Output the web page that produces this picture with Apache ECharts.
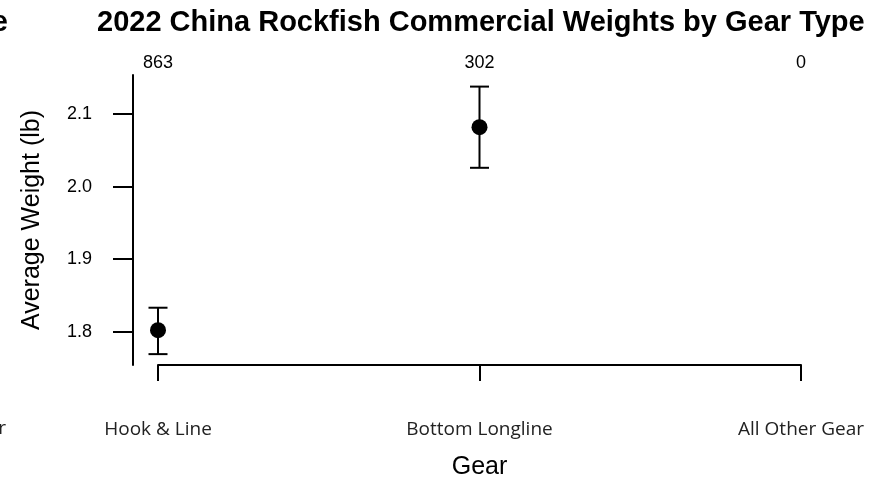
<!DOCTYPE html>
<html>
<head>
<meta charset="utf-8">
<script src="https://cdn.jsdelivr.net/npm/echarts@6/dist/echarts.min.js"></script>
<style>
  html, body { margin: 0; padding: 0; background: #fff; }
  #chart { width: 873px; height: 479px; }
</style>
</head>
<body>
<div id="chart"></div>
<script>
// gear types and their sample counts
const gears = ['Hook & Line', 'Bottom Longline', 'All Other Gear'];
const counts = ['863', '302', '0'];
// mean weight with lower / upper error bars (lb); no data for All Other Gear
const meanWeight = [1.802, 2.082, null];
const lowerBar = [1.769, 2.026, null];
const upperBar = [1.833, 2.138, null];
const yTicks = [1.8, 1.9, 2.0, 2.1];

const chart = echarts.init(document.getElementById('chart'));

const pointData = meanWeight.map((v, i) => [i, v]).filter(d => d[1] != null);
const barData = meanWeight.map((v, i) => [i, lowerBar[i], upperBar[i]]).filter(d => d[1] != null);

const arial = 'Liberation Sans, Arial, sans-serif';
const segoe = 'Open Sans, sans-serif';

const option = {
  animation: false,
  textStyle: { fontFamily: arial, color: '#000' },
  title: {
    text: '2022 China Rockfish Commercial Weights by Gear Type',
    left: 92,
    top: 3,
    textStyle: { fontSize: 29, fontWeight: 'bold', color: '#000', fontFamily: arial }
  },
  graphic: [
    // clipped pieces of the neighbouring panel
    { type: 'text', right: 865, top: 8, style: { text: 'Gear Type', font: 'bold 29px Liberation Sans', fill: '#000' } },
    { type: 'text', right: 867, top: 419, style: { text: 'All Other Gear', font: '19px Open Sans', fill: '#222' } }
  ],
  grid: [
    { left: 133, right: 72, top: 75, bottom: 114, outerBoundsMode: 'none' },
    { left: 158, right: 72, top: 75, bottom: 114, outerBoundsMode: 'none' }
  ],
  xAxis: [
    {
      gridIndex: 0, type: 'value', min: -25 / 321.5, max: 2,
      axisLine: { show: false }, axisTick: { show: false }, axisLabel: { show: false }, splitLine: { show: false }
    },
    {
      gridIndex: 1, type: 'category', data: gears, boundaryGap: false, position: 'bottom',
      axisLine: { onZero: false, lineStyle: { color: '#000', width: 2 } },
      axisTick: { length: 16, alignWithLabel: true, lineStyle: { color: '#000', width: 2 } },
      axisLabel: { margin: 55, fontSize: 19, color: '#222', fontFamily: segoe },
      name: 'Gear', nameLocation: 'middle', nameGap: 90,
      nameTextStyle: { fontSize: 25, color: '#000', fontFamily: arial },
      splitLine: { show: false }
    },
    {
      gridIndex: 1, type: 'category', data: counts, boundaryGap: false, position: 'top',
      axisLine: { show: false }, axisTick: { show: false },
      axisLabel: { margin: 3, fontSize: 18, color: '#000' },
      splitLine: { show: false }
    }
  ],
  yAxis: [
    {
      gridIndex: 0, type: 'value', min: 1.754, max: 2.154,
      axisLine: { show: true, onZero: false, lineStyle: { color: '#000', width: 2 } },
      axisTick: { show: true, length: 20, customValues: yTicks, lineStyle: { color: '#000', width: 2 } },
      axisLabel: { customValues: yTicks, margin: 41, fontSize: 18, color: '#000', formatter: v => v.toFixed(1) },
      splitLine: { show: false },
      name: 'Average Weight (lb)', nameLocation: 'middle', nameGap: 88, nameRotate: 90,
      nameTextStyle: { fontSize: 25, color: '#000', fontFamily: arial }
    },
    {
      gridIndex: 1, type: 'value', min: 1.754, max: 2.154, show: false
    }
  ],
  series: [
    {
      type: 'custom',
      xAxisIndex: 0, yAxisIndex: 0,
      data: barData,
      renderItem: function (params, api) {
        const x = api.value(0);
        const lo = api.coord([x, api.value(1)]);
        const hi = api.coord([x, api.value(2)]);
        const cap = 9.5;
        const style = { stroke: '#000', lineWidth: 2 };
        return {
          type: 'group',
          children: [
            { type: 'line', shape: { x1: lo[0], y1: lo[1], x2: hi[0], y2: hi[1] }, style },
            { type: 'line', shape: { x1: hi[0] - cap, y1: hi[1], x2: hi[0] + cap, y2: hi[1] }, style },
            { type: 'line', shape: { x1: lo[0] - cap, y1: lo[1], x2: lo[0] + cap, y2: lo[1] }, style }
          ]
        };
      },
      z: 2
    },
    {
      type: 'scatter',
      xAxisIndex: 0, yAxisIndex: 0,
      data: pointData,
      symbol: 'circle',
      symbolSize: 16,
      itemStyle: { color: '#000', opacity: 1 },
      z: 3
    }
  ]
};

chart.setOption(option);
</script>
</body>
</html>
